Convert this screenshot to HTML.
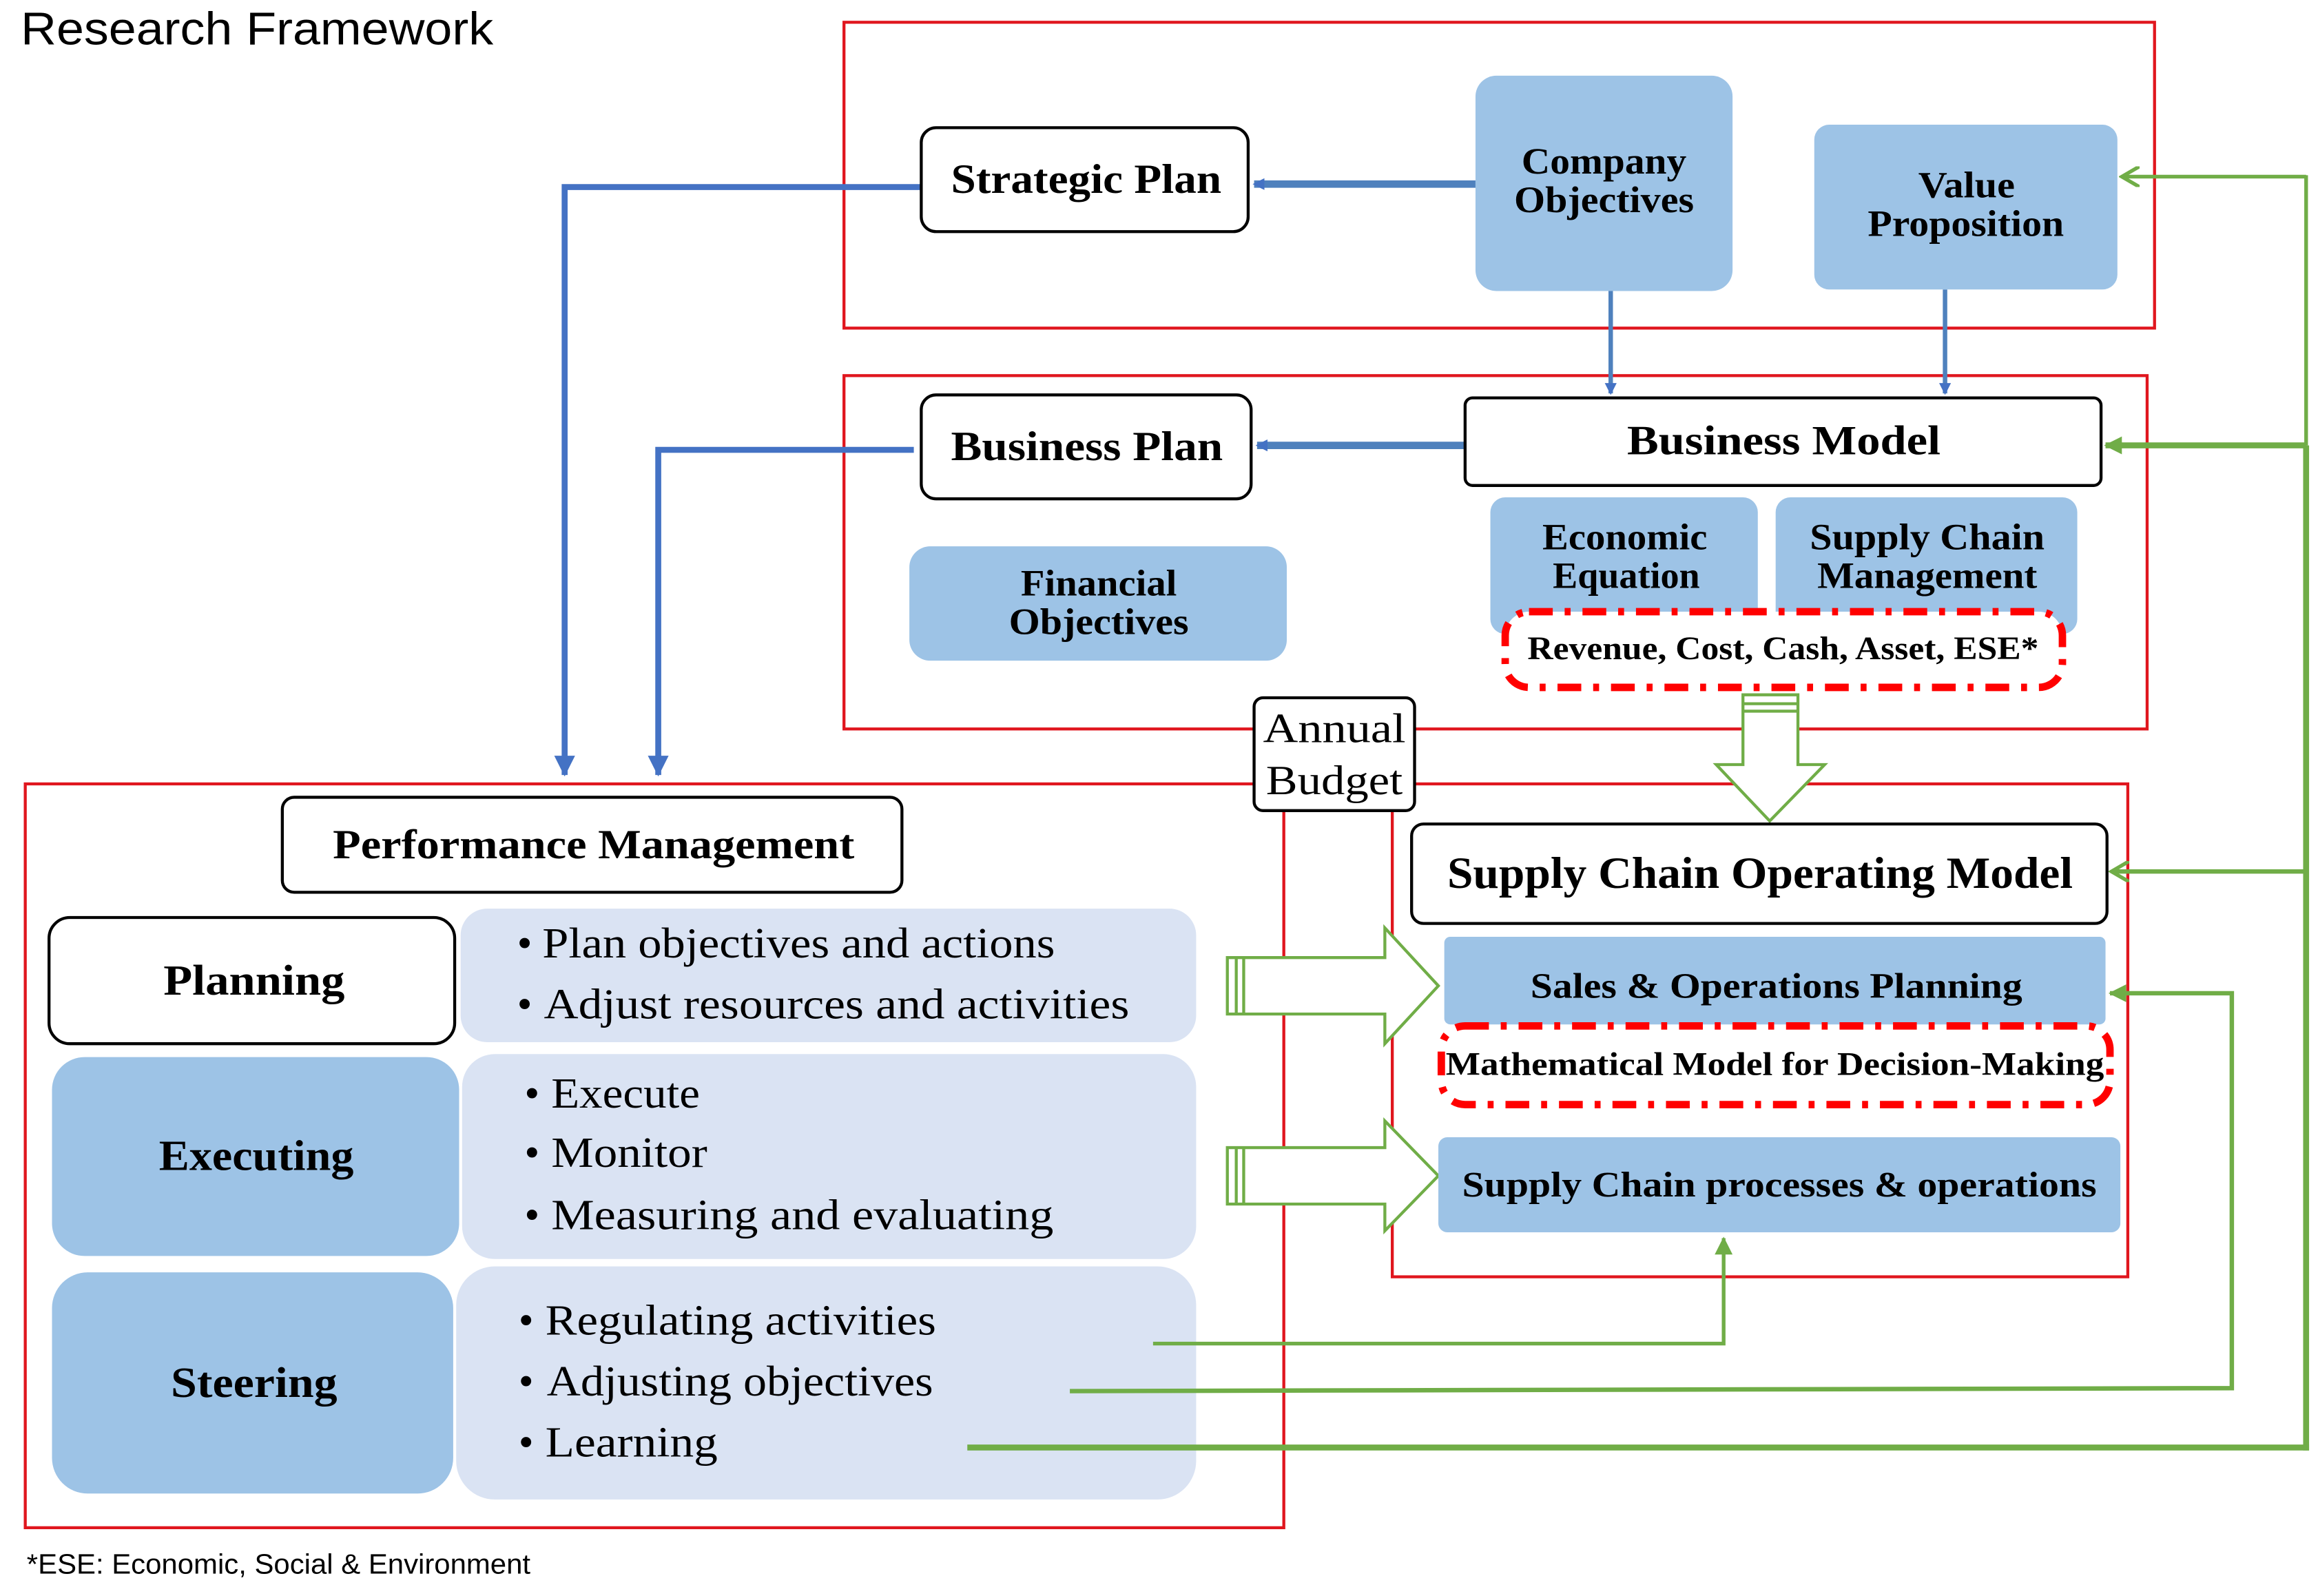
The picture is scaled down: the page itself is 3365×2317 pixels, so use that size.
<!DOCTYPE html>
<html><head><meta charset="utf-8"><style>
html,body{margin:0;padding:0;background:#fff;}
svg{display:block;}
.s{font-family:"Liberation Serif",serif;font-weight:bold;fill:#000;}
.n{font-family:"Liberation Serif",serif;fill:#000;}
</style></head><body>
<svg width="3365" height="2317" viewBox="0 0 1560 1075" preserveAspectRatio="none" xmlns="http://www.w3.org/2000/svg">
<defs>
<marker id="ab" markerWidth="8" markerHeight="8" refX="7" refY="4" orient="auto" markerUnits="userSpaceOnUse"><path d="M0,0 L8,4 L0,8 Z" fill="#4472C4"/></marker>
<marker id="ab2" markerWidth="14" markerHeight="14" refX="13" refY="7" orient="auto" markerUnits="userSpaceOnUse"><path d="M0,0 L14,7 L0,14 Z" fill="#4472C4"/></marker>
<marker id="ag" markerWidth="14" markerHeight="14" refX="12" refY="7" orient="auto" markerUnits="userSpaceOnUse"><path d="M0,0 L12,7 L0,14" fill="none" stroke="#70AD47" stroke-width="2.5"/></marker>
<marker id="agf" markerWidth="12" markerHeight="12" refX="11" refY="6" orient="auto" markerUnits="userSpaceOnUse"><path d="M0,0 L12,6 L0,12 Z" fill="#70AD47"/></marker>
</defs>
<rect width="1560" height="1075" fill="#fff"/>
<text x="14" y="30" font-family="Liberation Sans,sans-serif" font-size="31" fill="#000" textLength="318" lengthAdjust="spacingAndGlyphs">Research Framework</text>

<rect x="568" y="15" width="882" height="206" fill="none" stroke="#E0161E" stroke-width="2"/>
<rect x="568" y="253" width="877" height="238" fill="none" stroke="#E0161E" stroke-width="2"/>
<rect x="17" y="528" width="847" height="501" fill="none" stroke="#E0161E" stroke-width="2"/>
<rect x="937" y="528" width="495" height="332" fill="none" stroke="#E0161E" stroke-width="2"/>

<path d="M620,126 L380,126 L380,522" fill="none" stroke="#4472C4" stroke-width="4" marker-end="url(#ab2)"/>
<path d="M615,303 L443,303 L443,522" fill="none" stroke="#4472C4" stroke-width="4" marker-end="url(#ab2)"/>
<line x1="993" y1="124" x2="844" y2="124" stroke="#4F81BD" stroke-width="5" marker-end="url(#ab)"/>
<line x1="986" y1="300" x2="846" y2="300" stroke="#4F81BD" stroke-width="5" marker-end="url(#ab)"/>
<line x1="1084" y1="196" x2="1084" y2="265" stroke="#4F81BD" stroke-width="3" marker-end="url(#ab)"/>
<line x1="1309" y1="195" x2="1309" y2="265" stroke="#4F81BD" stroke-width="3" marker-end="url(#ab)"/>

<g lengthAdjust="spacingAndGlyphs">
<rect x="620" y="86" width="220" height="70" rx="10" fill="#fff" stroke="#000" stroke-width="2"/>
<text class="s" x="640" y="130" font-size="28" textLength="182" lengthAdjust="spacingAndGlyphs">Strategic Plan</text>
<rect x="993" y="51" width="173" height="145" rx="14" fill="#9DC3E6"/>
<text class="s" x="1024" y="117" font-size="25" textLength="111" lengthAdjust="spacingAndGlyphs">Company</text>
<text class="s" x="1019" y="143" font-size="25" textLength="121" lengthAdjust="spacingAndGlyphs">Objectives</text>
<rect x="1221" y="84" width="204" height="111" rx="10" fill="#9DC3E6"/>
<text class="s" x="1291" y="133" font-size="25" textLength="65" lengthAdjust="spacingAndGlyphs">Value</text>
<text class="s" x="1257" y="159" font-size="25" textLength="132" lengthAdjust="spacingAndGlyphs">Proposition</text>

<rect x="620" y="266" width="222" height="70" rx="10" fill="#fff" stroke="#000" stroke-width="2"/>
<text class="s" x="640" y="310" font-size="28" textLength="183" lengthAdjust="spacingAndGlyphs">Business Plan</text>
<rect x="986" y="268" width="428" height="59" rx="5" fill="#fff" stroke="#000" stroke-width="2"/>
<text class="s" x="1095" y="306" font-size="28" textLength="211" lengthAdjust="spacingAndGlyphs">Business Model</text>
<rect x="612" y="368" width="254" height="77" rx="14" fill="#9DC3E6"/>
<text class="s" x="687" y="401" font-size="25" textLength="105" lengthAdjust="spacingAndGlyphs">Financial</text>
<text class="s" x="679" y="427" font-size="25" textLength="121" lengthAdjust="spacingAndGlyphs">Objectives</text>
<rect x="1003" y="335" width="180" height="92" rx="10" fill="#9DC3E6"/>
<text class="s" x="1038" y="370" font-size="25" textLength="111" lengthAdjust="spacingAndGlyphs">Economic</text>
<text class="s" x="1045" y="396" font-size="25" textLength="99" lengthAdjust="spacingAndGlyphs">Equation</text>
<rect x="1195" y="335" width="203" height="92" rx="10" fill="#9DC3E6"/>
<text class="s" x="1218" y="370" font-size="25" textLength="158" lengthAdjust="spacingAndGlyphs">Supply Chain</text>
<text class="s" x="1223" y="396" font-size="25" textLength="148" lengthAdjust="spacingAndGlyphs">Management</text>
<rect x="1013" y="412" width="375" height="51" rx="16" fill="#fff" stroke="#FF0000" stroke-width="5" stroke-dasharray="16,8,4,8"/>
<text class="s" x="1028" y="444" font-size="22" textLength="344" lengthAdjust="spacingAndGlyphs">Revenue, Cost, Cash, Asset, ESE*</text>
</g>

<path d="M1173,468 L1210,468 L1210,515 L1228,515 L1191,553 L1155,515 L1173,515 Z" fill="#fff" stroke="#70AD47" stroke-width="2"/>
<line x1="1173" y1="474" x2="1210" y2="474" stroke="#70AD47" stroke-width="2"/>
<line x1="1173" y1="479" x2="1210" y2="479" stroke="#70AD47" stroke-width="2"/>

<rect x="844" y="470" width="108" height="76" rx="6" fill="#fff" stroke="#000" stroke-width="2"/>
<text class="n" x="850" y="500" font-size="28" textLength="96" lengthAdjust="spacingAndGlyphs">Annual</text>
<text class="n" x="852" y="535" font-size="28" textLength="92" lengthAdjust="spacingAndGlyphs">Budget</text>

<rect x="190" y="537" width="417" height="64" rx="8" fill="#fff" stroke="#000" stroke-width="2"/>
<text class="s" x="224" y="578" font-size="28" textLength="351" lengthAdjust="spacingAndGlyphs">Performance Management</text>

<rect x="310" y="612" width="495" height="90" rx="18" fill="#DAE3F3"/>
<rect x="311" y="710" width="494" height="138" rx="22" fill="#DAE3F3"/>
<rect x="307" y="853" width="498" height="157" rx="26" fill="#DAE3F3"/>

<rect x="33" y="618" width="273" height="85" rx="14" fill="#fff" stroke="#000" stroke-width="2"/>
<text class="s" x="110" y="670" font-size="29" textLength="122" lengthAdjust="spacingAndGlyphs">Planning</text>
<rect x="35" y="712" width="274" height="134" rx="22" fill="#9DC3E6"/>
<text class="s" x="107" y="788" font-size="29" textLength="131" lengthAdjust="spacingAndGlyphs">Executing</text>
<rect x="35" y="857" width="270" height="149" rx="24" fill="#9DC3E6"/>
<text class="s" x="115" y="941" font-size="29" textLength="112" lengthAdjust="spacingAndGlyphs">Steering</text>

<g class="n" font-size="29">
<text x="348" y="645">•</text><text x="365" y="645" textLength="345" lengthAdjust="spacingAndGlyphs">Plan objectives and actions</text>
<text x="348" y="686">•</text><text x="366" y="686" textLength="394" lengthAdjust="spacingAndGlyphs">Adjust resources and activities</text>
<text x="353" y="746">•</text><text x="371" y="746" textLength="100" lengthAdjust="spacingAndGlyphs">Execute</text>
<text x="353" y="786">•</text><text x="371" y="786" textLength="105" lengthAdjust="spacingAndGlyphs">Monitor</text>
<text x="353" y="828">•</text><text x="371" y="828" textLength="338" lengthAdjust="spacingAndGlyphs">Measuring and evaluating</text>
<text x="349" y="899">•</text><text x="367" y="899" textLength="263" lengthAdjust="spacingAndGlyphs">Regulating activities</text>
<text x="349" y="940">•</text><text x="368" y="940" textLength="260" lengthAdjust="spacingAndGlyphs">Adjusting objectives</text>
<text x="349" y="981">•</text><text x="367" y="981" textLength="116" lengthAdjust="spacingAndGlyphs">Learning</text>
</g>

<path d="M826,645 L932,645 L932,625 L968,664 L932,703 L932,683 L826,683 Z" fill="#fff" stroke="#70AD47" stroke-width="2"/>
<line x1="832" y1="645" x2="832" y2="683" stroke="#70AD47" stroke-width="2"/>
<line x1="837" y1="645" x2="837" y2="683" stroke="#70AD47" stroke-width="2"/>
<path d="M826,773 L932,773 L932,755 L968,792 L932,829 L932,811 L826,811 Z" fill="#fff" stroke="#70AD47" stroke-width="2"/>
<line x1="832" y1="773" x2="832" y2="811" stroke="#70AD47" stroke-width="2"/>
<line x1="837" y1="773" x2="837" y2="811" stroke="#70AD47" stroke-width="2"/>

<rect x="950" y="555" width="468" height="67" rx="8" fill="#fff" stroke="#000" stroke-width="2"/>
<text class="s" x="974" y="598" font-size="30" textLength="421" lengthAdjust="spacingAndGlyphs">Supply Chain Operating Model</text>
<rect x="972" y="631" width="445" height="59" rx="4" fill="#9DC3E6"/>
<text class="s" x="1030" y="672" font-size="24" textLength="331" lengthAdjust="spacingAndGlyphs">Sales &amp; Operations Planning</text>
<rect x="970" y="691" width="450" height="53" rx="16" fill="#fff" stroke="#FF0000" stroke-width="5" stroke-dasharray="16,8,4,8"/>
<text class="s" x="973" y="724" font-size="22" textLength="443" lengthAdjust="spacingAndGlyphs">Mathematical Model for Decision-Making</text>
<rect x="968" y="766" width="459" height="64" rx="6" fill="#9DC3E6"/>
<text class="s" x="984" y="806" font-size="24" textLength="427" lengthAdjust="spacingAndGlyphs">Supply Chain processes &amp; operations</text>

<path d="M1552,119 L1428,119" fill="none" stroke="#70AD47" stroke-width="2.5" marker-end="url(#ag)"/>
<line x1="1552" y1="118" x2="1552" y2="300" stroke="#70AD47" stroke-width="2.5"/>
<line x1="1552" y1="300" x2="1552" y2="977" stroke="#70AD47" stroke-width="4"/>
<path d="M1552,300 L1417,300" fill="none" stroke="#70AD47" stroke-width="4" marker-end="url(#agf)"/>
<path d="M1552,587 L1421,587" fill="none" stroke="#70AD47" stroke-width="3" marker-end="url(#ag)"/>
<line x1="651" y1="975" x2="1554" y2="975" stroke="#70AD47" stroke-width="4"/>
<path d="M720,937 L1502,935 L1502,669 L1420,669" fill="none" stroke="#70AD47" stroke-width="3" marker-end="url(#agf)"/>
<path d="M776,905 L1160,905 L1160,834" fill="none" stroke="#70AD47" stroke-width="2.5" marker-end="url(#agf)"/>

<text x="18" y="1060" font-family="Liberation Sans,sans-serif" font-size="19" fill="#000" textLength="339" lengthAdjust="spacingAndGlyphs">*ESE: Economic, Social &amp; Environment</text>
</svg>
</body></html>
